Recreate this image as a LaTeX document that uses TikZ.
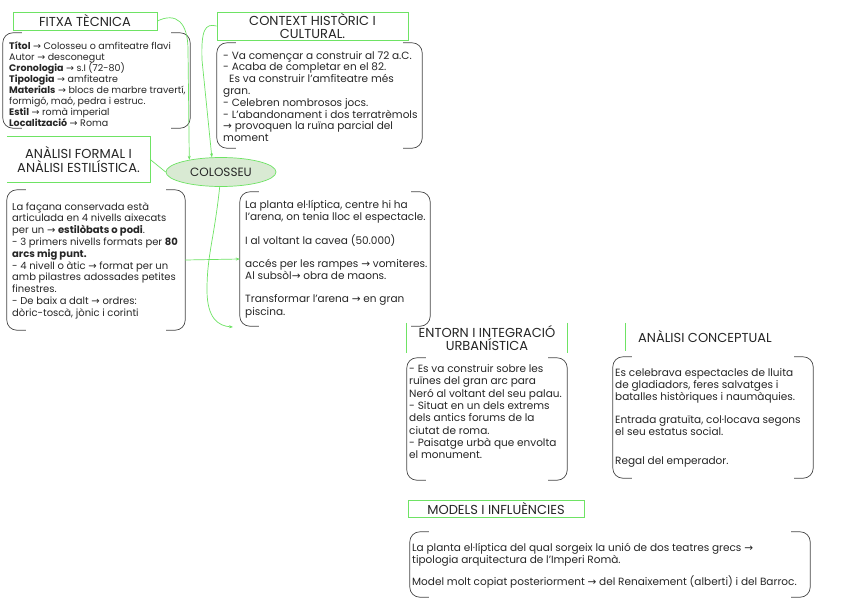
\documentclass[tikz,border=0pt]{standalone}
\usepackage{fontspec}
\setmainfont{Poppins}
\newfontfamily\arrfont{DejaVu Sans}
\newcommand\myarr{{\arrfont\char"2192}}
\newcommand\tightls{\lineskiplimit -8pt\relax}
\usetikzlibrary{arrows.meta,shapes.geometric}
\definecolor{lg}{HTML}{6EE364}
\definecolor{ink}{HTML}{262626}
\definecolor{fillg}{HTML}{D9EAD3}
\tikzset{
  hdr/.style={inner sep=0pt, align=center, text=ink, font=\fontsize{13}{13.5}\selectfont},
  hdrbox/.style={hdr, draw=lg, line width=0.8pt},
  frame/.style={inner sep=0pt, draw=none},
  bodytxt/.style={anchor=north west, inner sep=0pt, align=left, text=ink, font={\fontsize{10.5}{#1}\selectfont\tightls}},
  brk/.style={draw=ink!85, line width=0.7pt},
  conn/.style={draw=lg, line width=0.7pt},
  tipc/.style={-{Stealth[length=4pt,width=3pt]}},
}
\newcommand\brk[1]{%
  \draw[brk] ([xshift=19pt]#1.north west) -- ([xshift=10pt]#1.north west)
    arc[start angle=90,end angle=180,radius=10pt] -- ([yshift=10pt]#1.south west)
    arc[start angle=180,end angle=270,radius=10pt] -- ([xshift=19pt]#1.south west);
  \draw[brk] ([xshift=-19pt]#1.north east) -- ([xshift=-10pt]#1.north east)
    arc[start angle=90,end angle=0,radius=10pt] -- ([yshift=10pt]#1.south east)
    arc[start angle=0,end angle=-90,radius=10pt] -- ([xshift=-19pt]#1.south east);}
\begin{document}
\begin{tikzpicture}[x=1pt,y=-1pt]
\useasboundingbox[fill=white] (0,0) rectangle (848,600);
% headers
\node[hdrbox, minimum width=144pt, minimum height=18pt] (fth) at (85,21) {FITXA TÈCNICA};
\node[hdrbox, minimum width=191pt, minimum height=28pt] (cth) at (312.5,26) {CONTEXT HISTÒRIC I\\CULTURAL.};
\node[hdr, minimum width=143pt, minimum height=45pt] (ath) at (78.5,159.5) {ANÀLISI FORMAL I\\ANÀLISI ESTILÍSTICA.};
\draw[lg, line width=0.8pt] (ath.north west) -- (ath.north east) -- (ath.south east) -- (ath.south west);
\node[hdr, minimum width=160pt, minimum height=30pt] (eth) at (487,338) {ENTORN I INTEGRACIÓ\\URBANÍSTICA};
\draw[lg, line width=0.8pt] (eth.north west) -- (eth.south west) (eth.north east) -- (eth.south east);
\node[hdr, minimum width=158pt, minimum height=28pt] (kth) at (705,337) {ANÀLISI CONCEPTUAL};
\draw[lg, line width=0.8pt] (kth.north west) -- (kth.south west);
\node[hdrbox, minimum width=176pt, minimum height=17pt] (mth) at (496,508.5) {MODELS I INFLUÈNCIES};
% centre
\node[ellipse, draw=lg, fill=fillg, line width=0.7pt, minimum width=110pt, minimum height=29pt, inner sep=0pt, text=ink, font=\fontsize{12}{13}\selectfont] (col) at (221,172) {COLOSSEU};
% frames
\node[frame, minimum width=187pt, minimum height=95pt] (fb) at (96.5,80.5) {};
\node[frame, minimum width=205pt, minimum height=105pt] (cb) at (319.5,95.5) {};
\node[frame, minimum width=178pt, minimum height=140pt] (ab) at (96,260) {};
\node[frame, minimum width=190pt, minimum height=134pt] (rb) at (335,259) {};
\node[frame, minimum width=160pt, minimum height=122pt] (eb) at (487,419) {};
\node[frame, minimum width=200pt, minimum height=121pt] (kb) at (713,417.5) {};
\node[frame, minimum width=400pt, minimum height=65pt] (mb) at (610,564.5) {};
\brk{fb}\brk{cb}\brk{ab}\brk{rb}\brk{eb}\brk{kb}\brk{mb}
% texts
\node[bodytxt=11, font={\fontsize{9.5}{11}\selectfont\tightls}] (ft) at (9,41) {\textbf{Títol} \myarr{} Colosseu o amfiteatre flavi\\
Autor \myarr{} desconegut\\
\textbf{Cronologia} \myarr{} s.I (72-80)\\
\textbf{Tipologia} \myarr{} amfiteatre\\
\textbf{Materials} \myarr{} blocs de marbre travertí,\\
formigó, maó, pedra i estruc.\\
\textbf{Estil} \myarr{} romà imperial\\
\textbf{Localització} \myarr{} Roma};
\node[bodytxt=11.8] (ct) at (223,51) {- Va començar a construir al 72 a.C.\\
- Acaba de completar en el 82.\\
\hspace*{6pt}Es va construir l'amfiteatre més\\
gran.\\
- Celebren nombrosos jocs.\\
- L'abandonament i dos terratrèmols\\
\myarr{} provoquen la ruïna parcial del\\
moment};
\node[bodytxt=11.8, font={\fontsize{10}{11.8}\selectfont\tightls}] (at) at (12,202) {La façana conservada està\\
articulada en 4 nivells aixecats\\
per un \myarr{} \textbf{estilòbats o podi}.\\
- 3 primers nivells formats per \textbf{80}\\
\textbf{arcs mig punt.}\\
- 4 nivell o àtic \myarr{} format per un\\
amb pilastres adossades petites\\
finestres.\\
- De baix a dalt \myarr{} ordres:\\
dòric-toscà, jònic i corinti};
\node[bodytxt=12.3] (rt) at (245,200) {La planta el·líptica, centre hi ha\\
l'arena, on tenia lloc el espectacle.\\[11pt]
I al voltant la cavea (50.000)\\[11pt]
accés per les rampes \myarr{} vomiteres.\\
Al subsòl\myarr{} obra de maons.\\[11pt]
Transformar l'arena \myarr{} en gran\\
piscina.};
\node[bodytxt=12.4] (et) at (409,364) {- Es va construir sobre les\\
ruïnes del gran arc para\\
Neró al voltant del seu palau.\\
- Situat en un dels extrems\\
dels antics forums de la\\
ciutat de roma.\\
- Paisatge urbà que envolta\\
el monument.};
\node[bodytxt=12.2] (kt) at (615,368) {Es celebrava espectacles de lluita\\
de gladiadors, feres salvatges i\\
batalles històriques i naumàquies.\\[11pt]
Entrada gratuïta, col·locava segons\\
el seu estatus social.\\[16pt]
Regal del emperador.};
\node[bodytxt=11.7] (mt) at (412,543) {La planta el·líptica del qual sorgeix la unió de dos teatres grecs \myarr{}\\
tipologia arquitectura de l'Imperi Romà.\\[11pt]
Model molt copiat posteriorment \myarr{} del Renaixement (alberti) i del Barroc.};
% connectors
\draw[conn, tipc] (fth.east) .. controls (176,12) and (188,22) .. (188,50) -- (col.159);
\draw[conn, tipc] (cth.west) .. controls (205,23) and (201,30) .. (202,60) -- (col.122);
\draw[conn] (ath.east) -- (col.west);
\coordinate (c4) at (233,327);
\draw[conn, tipc] (col.265) .. controls (214,240) and (207,255) .. (207,290) .. controls (207,318) and (218,326) .. (c4);
\draw[conn, tipc] (ab.east) -- (rb.west);
\end{tikzpicture}
\end{document}
